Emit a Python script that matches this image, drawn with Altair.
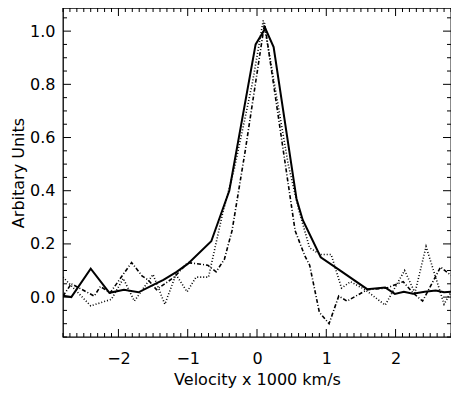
import altair as alt
import pandas as pd
import numpy as np

# ---- data ----
solid_x = [-2.80, -2.68, -2.40, -2.13, -1.92, -1.71, -1.49, -1.35, -1.16, -1.00, -0.66, -0.40,
           -0.02, 0.12, 0.24, 0.57, 0.66, 0.92, 1.16, 1.59, 1.85, 1.99, 2.12, 2.25, 2.42, 2.58, 2.70, 2.80]
solid_y = [0.005, 0.0, 0.107, 0.016, 0.028, 0.018, 0.047, 0.065, 0.095, 0.125, 0.21, 0.40,
           0.95, 1.01, 0.94, 0.37, 0.29, 0.15, 0.107, 0.03, 0.036, 0.012, 0.02, 0.013, 0.02, 0.025, 0.018, 0.02]

dotted_x = [-2.80, -2.40, -2.10, -1.93, -1.77, -1.50, -1.33, -1.17, -1.01, -0.88, -0.70, -0.50, -0.33,
            -0.07, 0.09, 0.20, 0.45, 0.60, 0.76, 0.92, 1.07, 1.22, 1.35, 1.56, 1.85, 2.13, 2.28, 2.44, 2.70, 2.80]
dotted_y = [0.075, -0.033, -0.008, 0.07, -0.015, 0.085, -0.027, 0.085, 0.02, 0.075, 0.075, 0.31, 0.48,
            0.80, 1.04, 0.88, 0.50, 0.33, 0.185, 0.16, 0.16, 0.034, 0.058, 0.028, -0.03, 0.10, 0.016, 0.19, -0.027, 0.02]

dashdot_x = [-2.80, -2.68, -2.35, -2.26, -2.12, -1.81, -1.66, -1.57, -1.45, -1.19, -1.00, -0.71, -0.59,
             -0.47, -0.36, -0.17, 0.11, 0.38, 0.55, 0.69, 0.76, 0.90, 1.04, 1.18, 1.30, 1.59, 1.87, 2.11,
             2.25, 2.39, 2.65, 2.80]
dashdot_y = [0.004, 0.05, 0.004, 0.04, 0.016, 0.13, 0.08, 0.064, 0.028, 0.076, 0.13, 0.12, 0.095,
             0.143, 0.25, 0.55, 1.03, 0.55, 0.25, 0.155, 0.12, -0.057, -0.10, 0.004, -0.015, 0.028, 0.034, 0.058,
             0.016, -0.015, 0.113, 0.082]

x_major = [-2, -1, 0, 1, 2]
y_major = [0.0, 0.2, 0.4, 0.6, 0.8, 1.0]
x_domain = [-2.8, 2.8]
y_domain = [-0.15, 1.087]

x_title = "Velocity x 1000 km/s"
y_title = "Arbitary Units"

# ---- layout ----
W, H = 388, 329
FONT = "DejaVu Sans"
MAJ, MIN = 8, 4

xscale = alt.Scale(domain=x_domain, nice=False, zero=False)
yscale = alt.Scale(domain=y_domain, nice=False, zero=False)

xaxis = alt.Axis(values=x_major, format="d", title=x_title, ticks=False, domain=False, grid=False,
                 labelFont=FONT, labelFontSize=16, labelColor="black", labelPadding=13,
                 titleFont=FONT, titleFontSize=16, titleFontWeight="normal", titleColor="black",
                 titlePadding=5)
yaxis = alt.Axis(values=y_major, format=".1f", title=y_title, ticks=False, domain=False, grid=False,
                 labelFont=FONT, labelFontSize=16, labelColor="black", labelPadding=8,
                 titleFont=FONT, titleFontSize=16, titleFontWeight="normal", titleColor="black",
                 titlePadding=3)


def line_layer(xs, ys, width, dash=None):
    df = pd.DataFrame({"v": xs, "a": ys})
    kw = dict(color="black", strokeWidth=width, clip=True, strokeJoin="miter")
    if dash:
        kw["strokeDash"] = dash
    return alt.Chart(df).mark_line(**kw).encode(
        x=alt.X("v:Q", scale=xscale, axis=xaxis),
        y=alt.Y("a:Q", scale=yscale, axis=yaxis),
    )


x_all = np.round(np.arange(-28, 29) / 10.0, 2)
x_minor = [v for v in x_all if not np.isclose(v, np.round(v))]
y_all = np.round(np.arange(-3, 22) * 0.05, 3)
y_minor = [v for v in y_all if not np.isclose(v * 5, np.round(v * 5))]


def xticks(vals, length):
    df = pd.DataFrame({"v": vals})
    base = alt.Chart(df).mark_rule(color="black", strokeWidth=1)
    bottom = base.encode(x=alt.X("v:Q", scale=xscale, axis=xaxis), y=alt.value(H), y2=alt.value(H - length))
    top = base.encode(x=alt.X("v:Q", scale=xscale, axis=xaxis), y=alt.value(0), y2=alt.value(length))
    return [bottom, top]


def yticks(vals, length):
    df = pd.DataFrame({"a": vals})
    base = alt.Chart(df).mark_rule(color="black", strokeWidth=1)
    left = base.encode(y=alt.Y("a:Q", scale=yscale, axis=yaxis), x=alt.value(0), x2=alt.value(length))
    right = base.encode(y=alt.Y("a:Q", scale=yscale, axis=yaxis), x=alt.value(W), x2=alt.value(W - length))
    return [left, right]


layers = [
    line_layer(solid_x, solid_y, 2.0),
    line_layer(dotted_x, dotted_y, 1.6, [1, 2]),
    line_layer(dashdot_x, dashdot_y, 1.6, [4, 2, 1, 2]),
]
layers += xticks(x_major, MAJ) + xticks(x_minor, MIN) + yticks(y_major, MAJ) + yticks(y_minor, MIN)

chart = alt.layer(*layers).properties(
    width=W, height=H,
    autosize=alt.AutoSizeParams(type="none"),
    padding={"left": 55, "top": 0, "right": 0, "bottom": 52},
    background="white",
).configure_view(stroke="black", strokeWidth=1.3)

chart.save("out.html", embed_options={"renderer": "svg", "actions": False})
